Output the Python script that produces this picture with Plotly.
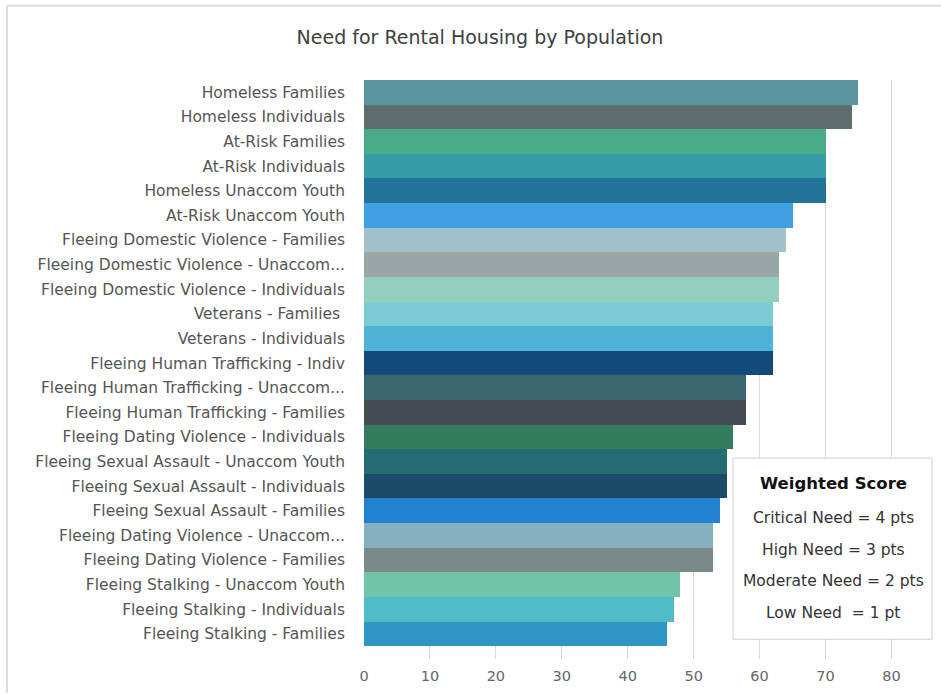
import plotly.graph_objects as go

categories = [
    "Homeless Families",
    "Homeless Individuals",
    "At-Risk Families",
    "At-Risk Individuals",
    "Homeless Unaccom Youth",
    "At-Risk Unaccom Youth",
    "Fleeing Domestic Violence - Families",
    "Fleeing Domestic Violence - Unaccom...",
    "Fleeing Domestic Violence - Individuals",
    "Veterans - Families ",
    "Veterans - Individuals",
    "Fleeing Human Trafficking - Indiv",
    "Fleeing Human Trafficking - Unaccom...",
    "Fleeing Human Trafficking - Families",
    "Fleeing Dating Violence - Individuals",
    "Fleeing Sexual Assault - Unaccom Youth",
    "Fleeing Sexual Assault - Individuals",
    "Fleeing Sexual Assault - Families",
    "Fleeing Dating Violence - Unaccom...",
    "Fleeing Dating Violence - Families",
    "Fleeing Stalking - Unaccom Youth",
    "Fleeing Stalking - Individuals",
    "Fleeing Stalking - Families",
]
scores = [75, 74, 70, 70, 70, 65, 64, 63, 63, 62, 62, 62, 58, 58, 56, 55, 55, 54, 53, 53, 48, 47, 46]
colors = [
    "#5a95a0", "#5e6e6e", "#4aab88", "#359ca8", "#22729a", "#3f9fe0",
    "#a2c1ca", "#9ba6a8", "#93cfbd", "#7acbd3", "#50b2d6", "#144a7a",
    "#3c6872", "#434d52", "#347c5e", "#256c72", "#1a4c6a", "#2282d0",
    "#86b0bf", "#7a8a8a", "#72c4a8", "#4fbcc8", "#2e96c4",
]
x_ticks = [0, 10, 20, 30, 40, 50, 60, 70, 80]
title_text = "Need for Rental Housing by Population"
legend_title = "Weighted Score"
legend_lines = ["Critical Need = 4 pts", "High Need = 3 pts", "Moderate Need = 2 pts", "Low Need  = 1 pt"]

FONT = "DejaVu Sans, sans-serif"
W, H = 941, 694
L, R, T, B = 364, 10, 80, 29
pw = W - L - R
ph = H - T - B

def px(x):
    return (x - L) / pw

def py(y):
    return (H - B - y) / ph

fig = go.Figure(go.Bar(
    x=scores, y=categories, orientation="h",
    marker=dict(color=colors, line=dict(width=0)),
    hoverinfo="x+y",
))

fig.update_layout(
    width=W, height=H,
    margin=dict(l=L, r=R, t=T, b=B, pad=0),
    paper_bgcolor="white", plot_bgcolor="white",
    bargap=0, showlegend=False,
    title=dict(text=title_text, x=480 / W, xref="container", xanchor="center",
               y=1 - 37 / H, yref="container", yanchor="middle",
               font=dict(family=FONT, size=19, color="#404040")),
    font=dict(family=FONT, color="#555555"),
)

fig.update_xaxes(range=[0, 86], tickvals=x_ticks, showgrid=True, gridcolor="#d9d9d9", gridwidth=1.2,
                 zeroline=False, showline=False, ticks="", tickfont=dict(family=FONT, size=14.5, color="#666666"),
                 ticklabelstandoff=6)
fig.update_yaxes(categoryorder="array", categoryarray=categories, range=[23.02, -0.5],
                 showgrid=False, zeroline=False, showline=False, ticks="",
                 tickfont=dict(family=FONT, size=15.5, color="#555555"), ticklabelstandoff=18)

shapes = [
    dict(type="line", xref="paper", yref="paper", x0=px(7), x1=px(W + 5), y0=py(5), y1=py(5),
         line=dict(color="#dcdcdc", width=2)),
    dict(type="line", xref="paper", yref="paper", x0=px(7), x1=px(7), y0=py(5), y1=py(H + 5),
         line=dict(color="#dcdcdc", width=2)),
    dict(type="rect", xref="paper", yref="paper", x0=px(733), x1=px(932), y0=py(462), y1=py(645),
         fillcolor="white", line=dict(color="#cfcfcf", width=1), layer="above"),
]
fig.update_layout(shapes=shapes)

cx = px(833)
anns = [dict(text="<b>" + legend_title + "</b>", x=cx, y=py(488), xref="paper", yref="paper",
             showarrow=False, xanchor="center", yanchor="middle",
             font=dict(family=FONT, size=16.5, color="#111111"))]
for i, t in enumerate(legend_lines):
    anns.append(dict(text=t, x=cx, y=py(523 + i * 31.7), xref="paper", yref="paper",
                     showarrow=False, xanchor="center", yanchor="middle",
                     font=dict(family=FONT, size=15.5, color="#333333")))
fig.update_layout(annotations=anns)

fig.write_html("out.html", config={"displayModeBar": False},
               post_script="document.body.style.margin='0px';document.body.style.padding='0px';")
